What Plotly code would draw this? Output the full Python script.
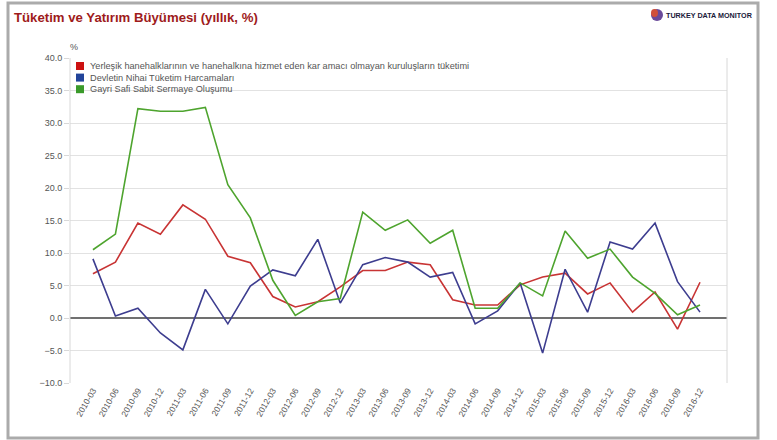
import plotly.graph_objects as go

# Quarterly periods
quarters = [
    "2010-03", "2010-06", "2010-09", "2010-12",
    "2011-03", "2011-06", "2011-09", "2011-12",
    "2012-03", "2012-06", "2012-09", "2012-12",
    "2013-03", "2013-06", "2013-09", "2013-12",
    "2014-03", "2014-06", "2014-09", "2014-12",
    "2015-03", "2015-06", "2015-09", "2015-12",
    "2016-03", "2016-06", "2016-09", "2016-12",
]

# Annual growth, %
household = [6.8, 8.6, 14.6, 12.9, 17.4, 15.2, 9.5, 8.5,
             3.3, 1.7, 2.5, 4.8, 7.3, 7.3, 8.6, 8.2,
             2.8, 2.0, 2.0, 5.1, 6.3, 6.9, 3.7, 5.4,
             0.9, 4.0, -1.7, 5.5]
government = [9.1, 0.3, 1.5, -2.3, -4.9, 4.4, -0.9, 4.9,
              7.4, 6.5, 12.1, 2.3, 8.2, 9.3, 8.6, 6.3,
              7.0, -0.9, 1.1, 5.4, -5.4, 7.5, 0.9, 11.7,
              10.6, 14.6, 5.6, 0.9]
investment = [10.5, 12.9, 32.2, 31.8, 31.8, 32.4, 20.5, 15.4,
              5.8, 0.4, 2.5, 3.0, 16.3, 13.5, 15.1, 11.5,
              13.5, 1.5, 1.5, 5.4, 3.4, 13.4, 9.2, 10.6,
              6.3, 3.8, 0.5, 2.0]

series_names = [
    "Yerleşik hanehalklarının ve hanehalkına hizmet eden kar amacı olmayan kuruluşların tüketimi",
    "Devletin Nihai Tüketim Harcamaları",
    "Gayri Safi Sabit Sermaye Oluşumu",
]
line_colors = ["#c83434", "#3d3d8f", "#4ea42e"]
key_colors = ["#cc1111", "#22449a", "#3a9a2a"]

y_ticks = [-10, -5, 0, 5, 10, 15, 20, 25, 30, 35, 40]

fig = go.Figure()
for name, vals, col in zip(series_names, [household, government, investment], line_colors):
    fig.add_trace(go.Scatter(
        x=quarters, y=vals, name=name, mode="lines",
        line=dict(color=col, width=1.6), showlegend=False,
    ))

# plot area geometry in pixels (used for paper-coordinate conversions)
W, H = 777, 440
L, R, T, B = 70, 50, 58, 57
pw, ph = W - L - R, H - T - B


def px(x):
    return (x - L) / pw


def py(y):
    return (H - B - y) / ph


shapes = []
annotations = []

# outer frame
shapes.append(dict(type="rect", xref="paper", yref="paper",
                   x0=px(8), x1=px(758), y0=py(438), y1=py(3),
                   line=dict(color="#ababab", width=3), layer="below"))
# plot border lines left and right
shapes.append(dict(type="line", xref="paper", yref="paper",
                   x0=0, x1=0, y0=0, y1=1, line=dict(color="#d8d8d8", width=1)))
shapes.append(dict(type="line", xref="paper", yref="paper",
                   x0=1, x1=1, y0=0, y1=1, line=dict(color="#d8d8d8", width=1)))

# legend keys
for i, (name, col) in enumerate(zip(series_names, key_colors)):
    cy = 66 + i * 11.6
    shapes.append(dict(type="rect", xref="paper", yref="paper",
                       x0=px(76), x1=px(84), y0=py(cy + 4), y1=py(cy - 4),
                       fillcolor=col, line=dict(width=0)))
    annotations.append(dict(xref="paper", yref="paper", x=px(88), y=py(cy),
                            xanchor="left", yanchor="middle", showarrow=False,
                            text=name, font=dict(size=9.2, color="#555555",
                                                 family="Liberation Sans, Arial")))

# unit label
annotations.append(dict(xref="paper", yref="paper", x=px(68), y=py(47),
                        xanchor="left", yanchor="middle", showarrow=False,
                        text="%", font=dict(size=9, color="#555555")))

# title
annotations.append(dict(xref="paper", yref="paper", x=px(12), y=py(17),
                        xanchor="left", yanchor="middle", showarrow=False,
                        text="<b>Tüketim ve Yatırım Büyümesi (yıllık, %)</b>",
                        font=dict(size=13.2, color="#9e1b1b",
                                  family="Liberation Sans, Arial")))

# brand mark
shapes.append(dict(type="circle", xref="paper", yref="paper",
                   x0=px(651), x1=px(663), y0=py(21), y1=py(9),
                   fillcolor="#6a4a9a", line=dict(width=0)))
shapes.append(dict(type="circle", xref="paper", yref="paper",
                   x0=px(651), x1=px(658), y0=py(17), y1=py(9),
                   fillcolor="#d0503a", line=dict(width=0)))
annotations.append(dict(xref="paper", yref="paper", x=px(664), y=py(15),
                        xanchor="left", yanchor="middle", showarrow=False,
                        text="<b>TURKEY DATA MONITOR</b>",
                        font=dict(size=7.2, color="#1a1a3a",
                                  family="Liberation Sans, Arial")))

fig.update_layout(
    width=W, height=H,
    margin=dict(l=L, r=R, t=T, b=B),
    paper_bgcolor="white", plot_bgcolor="white",
    font=dict(family="Liberation Sans, Arial", color="#555555", size=9),
    shapes=shapes, annotations=annotations,
    showlegend=False,
)
fig.update_xaxes(
    type="category", range=[-1.02, 28.2],
    tickangle=-60, tickfont=dict(size=8.5, color="#555555"),
    showgrid=False, showline=False, zeroline=False,
    ticks="", ticklen=0,
)
fig.update_yaxes(
    range=[-10, 40], tickvals=y_ticks, tickformat=".1f",
    tickfont=dict(size=9, color="#555555"),
    showgrid=True, gridcolor="#e2e2e2", gridwidth=1,
    zeroline=True, zerolinecolor="#707070", zerolinewidth=1.5,
    ticks="outside", ticklen=5, tickcolor="#d8d8d8",
    showline=False,
)

fig.write_html("out.html")
